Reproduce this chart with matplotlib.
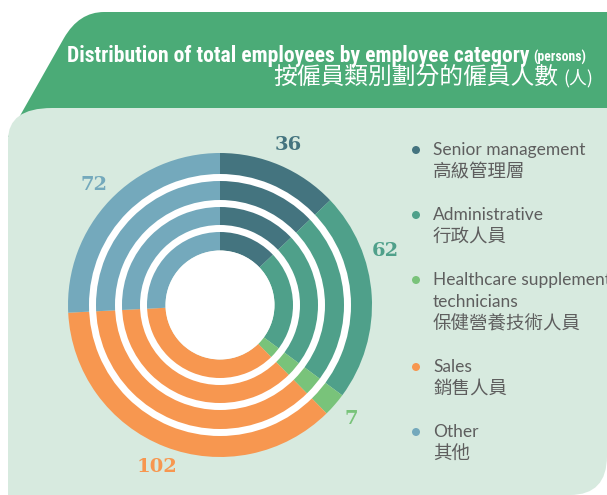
import numpy as np
import matplotlib
matplotlib.use("Agg")
import matplotlib.pyplot as plt
from matplotlib.patches import Circle, Annulus, PathPatch
from matplotlib.path import Path
from matplotlib import font_manager as fm

# ---------------- data ----------------
categories_en = ["Senior management", "Administrative",
                 "Healthcare supplement\ntechnicians", "Sales", "Other"]
categories_zh = ["高級管理層", "行政人員", "保健營養技術人員", "銷售人員", "其他"]
values = [36, 62, 7, 102, 72]
colors = ["#44747f", "#4fa08a", "#79c37a", "#f79750", "#74a9bc"]
title_en = "Distribution of total employees by employee category"
title_unit_en = "(persons)"
title_zh = "按僱員類別劃分的僱員人數"
title_unit_zh = "(人)"

# ---------------- helpers ----------------
def available(name):
    try:
        fm.findfont(fm.FontProperties(family=name), fallback_to_default=False)
        return True
    except Exception:
        return False

def pick(cands):
    for c in cands:
        if available(c):
            return c
    return "DejaVu Sans"

cond_font = pick(["Liberation Sans Narrow", "Roboto Condensed", "DejaVu Sans Condensed",
                  "Open Sans Condensed", "Noto Sans"])
sans_font = pick(["Lato", "Open Sans", "Noto Sans"])
serif_font = pick(["DejaVu Serif", "Liberation Serif"])
cjk_font = "Noto Sans CJK TC"

W, H = 607, 495
fig = plt.figure(figsize=(W / 100, H / 100), dpi=100)
fig.patch.set_facecolor("white")
ax = fig.add_axes([0, 0, 1, 1])

def Y(y):
    return H - y

M, L, C3, CL = Path.MOVETO, Path.LINETO, Path.CURVE3, Path.CLOSEPOLY

# header banner
hv = [(607, Y(12)), (104, Y(12)), (79, Y(12)), (64, Y(38)), (8, Y(137)),
      (607, Y(137)), (607, Y(12))]
hc = [M, L, C3, C3, L, L, CL]
ax.add_patch(PathPatch(Path(hv, hc), facecolor="#4bab77", edgecolor="none", zorder=1))

# light panel
pv = [(8, Y(495)), (8, Y(140)), (8, Y(108)), (52, Y(108)), (607, Y(108)),
      (607, Y(456)), (607, Y(495)), (570, Y(495)), (8, Y(495))]
pc = [M, L, C3, C3, L, L, C3, C3, CL]
ax.add_patch(PathPatch(Path(pv, pc), facecolor="#d7eadf", edgecolor="none", zorder=2))

# donut
cx, cy = 220, Y(305)
r_out, r_in = 152, 54.5
wedges, _ = ax.pie(values, colors=colors, startangle=90, counterclock=False,
                   radius=r_out, center=(cx, cy),
                   wedgeprops=dict(width=r_out - r_in, linewidth=0, edgecolor="none"))
for w in wedges:
    w.set_zorder(3)
for rr in (131, 105, 80):
    ax.add_patch(Annulus((cx, cy), rr, 7, facecolor="white", edgecolor="none", zorder=4))
ax.add_patch(Circle((cx, cy), r_in, facecolor="white", edgecolor="none", zorder=4))

# value labels
total = sum(values)
label_r = 174
angle_shift = {1: -14.5}
cum = 0
for i, v in enumerate(values):
    th = np.deg2rad((cum + v / 2) / total * 360 + angle_shift.get(i, 0))
    cum += v
    ax.text(cx + label_r * np.sin(th), cy + label_r * np.cos(th), str(v),
            color=colors[i], fontsize=14, fontweight="bold", family=serif_font,
            ha="center", va="center", zorder=5)

# legend
txt_color = "#5e5e5e"
y = 150
en_texts = []
for i, (en, zh) in enumerate(zip(categories_en, categories_zh)):
    ax.add_patch(Circle((416, Y(y)), 4, facecolor=colors[i], edgecolor="none", zorder=5))
    for line in en.split("\n"):
        en_texts.append(ax.text(433, Y(y), line, fontsize=12.5,
                                family=[sans_font, "DejaVu Sans"],
                                color=txt_color, ha="left", va="center", zorder=5))
        y += 22
    ax.text(433, Y(y), zh, fontsize=13.3, family=[cjk_font, "DejaVu Sans"],
            color=txt_color, ha="left", va="center", zorder=5)
    y += 43

# titles
t1 = ax.text(67, Y(62), title_en, fontsize=15, fontweight="bold",
             family=[cond_font, "DejaVu Sans"], color="white", ha="left",
             va="baseline", zorder=5)
t1u = ax.text(533, Y(62), title_unit_en, fontsize=10, fontweight="bold",
              family=[cond_font, "DejaVu Sans"], color="white", ha="left",
              va="baseline", zorder=5)
t2 = ax.text(558, Y(84), title_zh, fontsize=16, family=[cjk_font, "DejaVu Sans"],
             color="white", ha="right", va="baseline", zorder=5)
t2u = ax.text(593, Y(84), title_unit_zh, fontsize=13, family=[cjk_font, "DejaVu Sans"],
              color="white", ha="right", va="baseline", zorder=5)

ax.set_xlim(0, W)
ax.set_ylim(0, H)
ax.set_aspect("equal")
ax.axis("off")

fig.canvas.draw()
rend = fig.canvas.get_renderer()

def fit(t, target):
    bb = t.get_window_extent(renderer=rend)
    t.set_fontsize(t.get_fontsize() * target / bb.width)

fit(t1, 463)
fit(t1u, 53)
fit(t2, 286)
fit(t2u, 30)

# legend English size from the first entry's width
bb = en_texts[0].get_window_extent(renderer=rend)
fs = en_texts[0].get_fontsize() * 152 / bb.width
for t in en_texts:
    t.set_fontsize(fs)

fig.savefig("out.png", dpi=100, facecolor="white")
